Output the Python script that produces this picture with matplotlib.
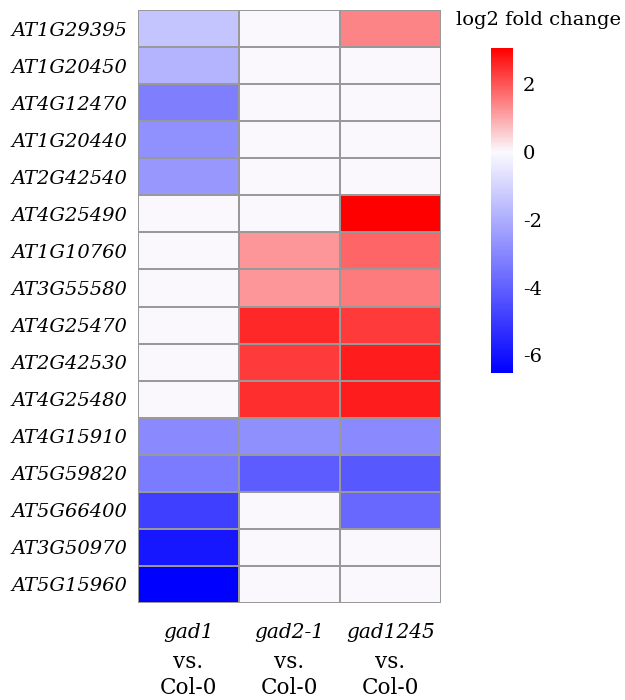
import numpy as np
import matplotlib
matplotlib.use("Agg")
import matplotlib.pyplot as plt
from matplotlib.colors import LinearSegmentedColormap, Normalize

genes = ["AT1G29395", "AT1G20450", "AT4G12470", "AT1G20440", "AT2G42540",
         "AT4G25490", "AT1G10760", "AT3G55580", "AT4G25470", "AT2G42530",
         "AT4G25480", "AT4G15910", "AT5G59820", "AT5G66400", "AT3G50970",
         "AT5G15960"]
mutants = ["gad1", "gad2-1", "gad1245"]
control = "Col-0"

gad1 = [-1.4, -1.85, -3.2, -2.75, -2.55, 0, 0, 0, 0, 0, 0, -2.9, -3.3, -4.85, -5.9, -6.5]
gad2_1 = [0, 0, 0, 0, 0, 0, 1.2, 1.2, 2.55, 2.35, 2.5, -2.8, -4.1, 0, 0, 0]
gad1245 = [1.45, 0, 0, 0, 0, 3.07, 1.8, 1.55, 2.35, 2.7, 2.7, -2.9, -4.2, -3.8, 0, 0]

vmin, vmax = -6.52, 3.07
cbar_ticks = [2, 0, -2, -4, -6]
cbar_title = "log2 fold change"

plt.rcParams['font.family'] = ['DejaVu Serif']
plt.rcParams['axes.unicode_minus'] = False

data = np.array([gad1, gad2_1, gad1245]).T
pos0 = (0 - vmin) / (vmax - vmin)
cmap = LinearSegmentedColormap.from_list(
    "bwr_asym", [(0, "#0000FF"), (pos0, "#FAFAFE"), (1, "#FF0000")], N=256)
norm = Normalize(vmin=vmin, vmax=vmax)

W, H = 625, 700
fig = plt.figure(figsize=(W / 100, H / 100), dpi=100)
ax = fig.add_axes([138 / W, 1 - 603 / H, 303 / W, 593 / H])
ax.pcolormesh(np.arange(len(mutants) + 1), np.arange(len(genes) + 1), data,
              cmap=cmap, norm=norm, edgecolors="#999999", linewidth=1.2)
ax.set_xlim(0, len(mutants))
ax.set_ylim(len(genes), 0)
for s in ax.spines.values():
    s.set_visible(False)
ax.set_yticks(np.arange(len(genes)) + 0.5)
ax.set_yticklabels(genes, fontstyle="italic", fontsize=14)
ax.tick_params(axis="y", length=0, pad=8)
ax.set_xticks([])

for i, m in enumerate(mutants):
    for off, txt, st, fs in [(21, m, "italic", 14.5), (42.5, "vs.", "normal", 15.5),
                             (61.5, control, "normal", 15.5)]:
        ax.annotate(txt, xy=(i + 0.5, 0), xycoords=("data", "axes fraction"),
                    xytext=(0, -off), textcoords="offset points",
                    ha="center", va="center", fontsize=fs, fontstyle=st)

cax = fig.add_axes([491 / W, 1 - 373 / H, 22 / W, 325 / H])
cb = fig.colorbar(plt.cm.ScalarMappable(norm=norm, cmap=cmap), cax=cax)
cb.outline.set_visible(False)
cb.set_ticks(cbar_ticks)
cb.ax.tick_params(length=0, pad=7, labelsize=14)
fig.text(539 / W, 1 - 20 / H, cbar_title, ha="center", va="center", fontsize=14)

fig.savefig("out.png", dpi=100)
